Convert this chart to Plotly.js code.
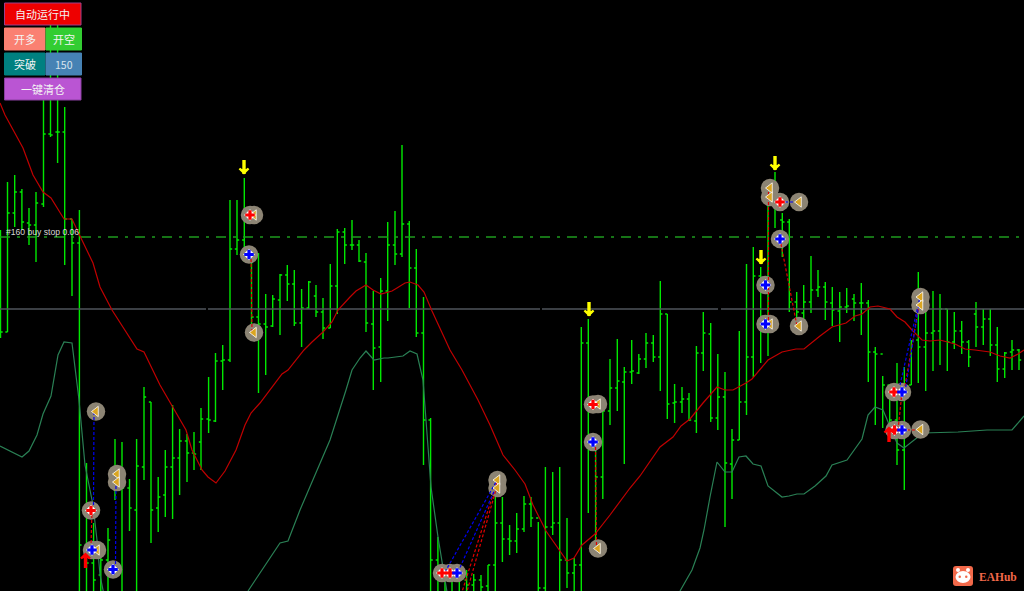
<!DOCTYPE html>
<html><head><meta charset="utf-8">
<script src="https://cdn.plot.ly/plotly-3.0.1.min.js"></script>
<style>html,body{margin:0;padding:0;background:#000;overflow:hidden}#c{width:1024px;height:591px}</style>
</head><body><div id="c"></div>
<script>
const barX=[0.5,7.5,14.7,21.9,29,36,43.5,50.5,57.6,64.7,72,79.4,86.5,93.6,100.8,108,115,122,129.5,136.6,144,151,158.2,165.3,172.6,179.6,187,194,201,208.6,215.5,222.7,230,237,244.3,251.5,258.5,265.7,272.7,280,287.3,294.3,301.6,308.7,316,323,330.3,337.3,344.7,352,359,366,373.3,380.7,387.7,395,402,409.3,416.3,423.5,430.6,437.9,445,452,459.3,466.6,473.7,481,488,495.3,502.4,509.6,516.7,524,531,538.3,545.4,552.7,559.7,567,574.2,581.3,588.3,595.6,602.8,610,617.3,624.3,631.7,638.8,646,653.3,660.3,667.3,674.6,682,689,696.4,703.3,710.7,717.8,725,732,739.3,746.5,753.3,760.7,768,775,782.3,789.3,796.7,803.7,811,818,825.3,832.3,839.7,846.7,854,861.3,868.3,875.3,882.7,889.7,897,904.3,911.3,918.3,925.7,933,940,947.3,954.3,961.7,968.7,976,983.3,990.3,997.3,1004.7,1012,1019];
const barHigh=[230,182,175,189,208,192,80,25,25,107,
219,210,463,523,547,528,439,442,479,439,
387,402,477,450,405,429,434,432,408,377,
353,345,200,200,178,255,253,294,295,274,
265,270,289,281,285,298,264,229,228,220,
240,253,291,278,222,211,145,221,249,297,
418,537,565,566,567,570,574,575,565,490,
497,525,513,496,497,522,467,472,467,518,
558,327,319,448,405,359,339,367,340,354,
333,335,281,314,384,387,393,346,312,323,
354,372,429,331,264,247,267,203,172,213,
219,292,285,256,270,282,287,292,288,294,
283,300,347,376,397,363,367,340,272,306,
291,294,309,312,321,340,302,309,309,327,
352,340,349];
const barLow=[338,332,227,230,245,262,207,137,163,265,
296,600,600,600,600,600,500,600,531,600,
480,543,532,517,519,495,482,470,470,433,
422,390,362,255,262,335,393,375,327,335,
301,326,347,309,317,339,328,314,264,250,
262,332,390,382,321,265,257,308,337,465,
600,600,600,600,600,600,600,600,600,600,
562,555,553,532,527,600,600,535,600,588,
600,600,513,543,499,425,411,464,384,374,
368,362,391,419,423,413,421,433,371,422,
430,527,499,440,415,377,363,356,228,257,
312,332,327,313,297,320,326,342,313,321,
335,382,425,428,438,465,490,385,383,391,
371,365,371,349,354,367,347,345,356,382,
378,370,370];
const barOpen=[300,332,213,192,223,225,204,134,132,132,
219,243,545,563,575,560,470,488,488,510,
467,402,508,495,467,458,441,453,442,419,
421,361,360,249,240,255,317,324,326,300,
275,284,323,308,296,312,328,286,232,245,
245,262,324,347,291,245,254,224,268,333,
420,560,570,575,578,580,585,580,586,565,
523,539,541,529,504,518,588,527,523,560,
573,565,343,405,477,411,388,382,372,373,
359,343,357,314,403,402,399,421,353,334,
418,397,464,440,402,357,276,285,330,220,
222,302,313,302,290,287,303,311,307,299,
303,303,352,354,385,420,450,385,340,347,
333,331,309,342,331,342,314,327,319,345,
369,352,350];
const barClose=[332,213,192,222,225,203,134,135,132,219,
243,545,563,580,560,540,488,488,508,466,
397,510,497,467,458,441,453,454,419,420,
361,360,249,240,255,317,324,327,299,275,
284,323,308,282,312,328,286,232,245,245,
261,323,348,291,245,254,224,268,333,420,
560,570,575,578,580,585,580,587,565,523,
539,541,529,504,518,588,527,523,560,573,
565,343,405,477,411,388,381,372,371,359,
343,357,314,404,402,399,420,353,333,418,
397,463,440,402,357,276,285,330,202,222,
302,312,302,290,287,302,310,307,306,303,
303,352,354,385,420,450,385,341,347,333,
331,309,342,331,342,357,327,319,345,369,
353,350,360];

const maX=[0,5,23,33,43,51,64,72,80,93,100,112,137,144,160,173,186,192,202,208,216,225,236,245,251,260,270,282,288,304,312,323,332,338,350,356,366,373,381,392,397,405,410,418,424,432,450,462,478,490,503,515,525,533,546,560,567,574,582,595,610,630,640,660,673,681,690,703,717,725,733,746,752,768,782,796,804,820,832,846,855,862,870,878,890,897,905,912,922,930,940,955,965,975,990,1000,1010,1018,1024];
const maY=[103,115,148,175,192,198,219,219,236,263,287,310,349,352,385,407,430,450,470,477,483,471,450,425,413,403,390,374,370,350,342,332,322,310,297,291,285,290,294,291,288,283,282,285,292,311,350,370,400,425,455,470,484,505,531,551,561,558,545,534,515,488,476,447,437,426,419,403,387,390,390,383,379,360,352,349,349,336,327,323,316,314,307,306,309,317,322,330,340,341,340,344,349,350,352,356,358,354,350];

const bandAX=[0,22,29,37,43,51,58,64,72,79,85,93,97,100,104];
const bandAY=[446,457,451,435,414,396,355,342,343,400,465,505,540,575,595];
const bandBX=[248,260,272,280,288,300,315,330,346,352,360,366,374,384,388,403,410,417,423,431,438,447];
const bandBY=[591,573,555,543,541,510,475,440,390,370,358,351,360,358,358,356,351,354,380,487,537,592];
const bandCX=[680,692,700,704,710,717,725,732,739,746,753,761,768,782,789,797,804,815,826,832,847,862,868,875,883,897,904,913,923,958,987,1012,1024];
const bandCY=[591,570,548,530,497,462,472,472,457,456,464,466,486,497,496,494,494,486,476,465,460,439,415,407,410,443,448,441,433,432,430,430,416];

const closeX=[96,117,117,97,254,254,497.5,497.5,598,598,770,770,799,770,799,920.5,920.5,920.5];
const closeY=[411.5,474,482,550,215,332.5,480,488,404,548.5,188,197,202,324,326,297,305,429.5];
const sellX=[91,250,442,450,593,780,894,894.5];
const sellY=[510.5,215,573,573,404.5,202,392,430];
const buyX=[92,113,249,457,593,780,765.5,765.5,902,902];
const buyY=[550,569.5,254.5,573,442,239,285,324,392,430];
const stopDownX=[244,589,775,761];
const stopDownY=[174,316,170,264];
const upX=[85.5,889];
const upY=[553,427];

const redLinkX=[780,797,null,461,497,null,466,497,null,595.5,596.5,null,768.5,768.5,null,905,919,null,902,898,null,902,920,null,92,91,null,251,252];
const redLinkY=[239,326,null,595,482,null,595,486,null,442,548,null,192,324,null,386,305,null,392,430,null,430,430,null,510,545,null,254,332];
const blueLinkX=[94,93.5,null,115.5,116,null,445,496,null,458,496,null,780,799,null,894,902,null,900,920,null,905,919];
const blueLinkY=[412,505,null,569,482,null,572,482,null,572,487,null,202,202,null,392,392,null,385,297,null,392,304];
const greyLineX=[0,206,null,208,540,null,542,718,null,721,1024];
const greyLineY=[309,309,null,309,309,null,309,309,null,309,309];
const stopLineX=[0,1024];
const stopLineY=[237,237];

const buttons=[
 {t:'自动运行中',x0:4.5,x1:81,y0:3,y1:25,c:'#ee0000',b:'#a0408a'},
 {t:'开多',x0:4.5,x1:45,y0:28,y1:50,c:'#fa8072',b:'#fa8072'},
 {t:'开空',x0:46,x1:81.5,y0:28,y1:50,c:'#32cd32',b:'#32cd32'},
 {t:'突破',x0:4.5,x1:45,y0:53,y1:75,c:'#008080',b:'#008080'},
 {t:'150',x0:46,x1:81.5,y0:53,y1:75,c:'#4682b4',b:'#4682b4'},
 {t:'一键清仓',x0:4.5,x1:81,y0:78,y1:100,c:'#ba55d3',b:'#8a40a0'}
];

function line(x,y,color,width,dash){return {type:'scatter',mode:'lines',x:x,y:y,line:{color:color,width:width,dash:dash||'solid'},hoverinfo:'skip',connectgaps:false};}
function pts(x,y,sym,size,color,lc,lw,angle){return {type:'scatter',mode:'markers',x:x,y:y,hoverinfo:'skip',marker:{symbol:sym,size:size,color:color,angle:angle||0,opacity:1,line:{color:lc||color,width:lw||0}}};}
const discColor='#8c8474';
const traces=[
 line(greyLineX,greyLineY,'#4f545b',1.6),
 line(stopLineX,stopLineY,'#1e9a1e',1.4,'10px,7px,3px,7px'),
 {type:'ohlc',x:barX,open:barOpen,high:barHigh,low:barLow,close:barClose,tickwidth:0.32,hoverinfo:'skip',
  increasing:{line:{color:'#00e800',width:1.4}},decreasing:{line:{color:'#00e800',width:1.4}}},
 line(maX,maY,'#c00000',1.2),
 line(bandAX,bandAY,'#2a8055',1.2),
 line(bandBX,bandBY,'#2a8055',1.2),
 line(bandCX,bandCY,'#2a8055',1.2),
 pts(closeX,closeY,'circle',18.5,discColor),
 pts(sellX,sellY,'circle',18.5,discColor),
 pts(buyX,buyY,'circle',18.5,discColor),
 line(redLinkX,redLinkY,'#e00000',1.2,'3px,2px'),
 line(blueLinkX,blueLinkY,'#0000f0',1.2,'3px,2px'),
 pts(closeX,closeY,'triangle-left',9,'#daa520','#ffffff',0.8),
 pts(sellX,sellY,'diamond',9,'#ffffff'),
 pts(buyX,buyY,'diamond',9,'#ffffff'),
 pts(sellX,sellY,'cross',8,'#ff0000'),
 pts(buyX,buyY,'cross',8,'#0000ff'),
 pts(stopDownX,stopDownY.map(v=>v-7),'line-ns-open',10,'#ffff00','#ffff00',3.4),
 pts(stopDownX,stopDownY.map(v=>v-1),'arrow-wide',6.5,'#ffff00','#ffff00',2.2,180),
 pts(upX,upY.map(v=>v+8),'line-ns-open',10,'#ff0000','#ff0000',3.4),
 pts(upX,upY.map(v=>v+1),'arrow-wide',6.5,'#ff0000','#ff0000',2.2,0)
];

const shapes=[];const ann=[];
buttons.forEach(b=>{
 shapes.push({type:'rect',xref:'x',yref:'y',x0:b.x0,x1:b.x1,y0:b.y0,y1:b.y1,fillcolor:b.c,line:{color:b.b,width:1},layer:'above'});
 ann.push({xref:'x',yref:'y',x:(b.x0+b.x1)/2,y:(b.y0+b.y1)/2,text:b.t,showarrow:false,xanchor:'center',yanchor:'middle',
  font:{family:'"Noto Sans CJK SC","Noto Sans",sans-serif',size:b.t==='150'?10.5:11,color:b.t==='150'?'#d8e4ee':'#f4f4f4'}});
});
// watermark logo
const logo='#f2694a';
shapes.push({type:'path',xref:'x',yref:'y',layer:'above',fillcolor:logo,line:{width:0},
 path:'M956,566 L970,566 Q973,566 973,569 L973,583 Q973,586 970,586 L956,586 Q953,586 953,583 L953,569 Q953,566 956,566 Z'});
shapes.push({type:'circle',xref:'x',yref:'y',layer:'above',fillcolor:'#fff',line:{width:0},x0:955.5,x1:970.5,y0:571,y1:583});
shapes.push({type:'circle',xref:'x',yref:'y',layer:'above',fillcolor:'#fff',line:{width:0},x0:956,x1:960,y0:568,y1:572});
shapes.push({type:'circle',xref:'x',yref:'y',layer:'above',fillcolor:'#fff',line:{width:0},x0:966,x1:970,y0:568,y1:572});
shapes.push({type:'circle',xref:'x',yref:'y',layer:'above',fillcolor:logo,line:{width:0},x0:958.5,x1:961,y0:575.5,y1:578});
shapes.push({type:'circle',xref:'x',yref:'y',layer:'above',fillcolor:logo,line:{width:0},x0:965,x1:967.5,y0:575.5,y1:578});
ann.push({xref:'x',yref:'y',x:977,y:576.5,text:'<b>EAHub</b>',showarrow:false,xanchor:'left',yanchor:'middle',
 font:{family:'"Liberation Serif",serif',size:11.5,color:logo}});
ann.push({xref:'x',yref:'y',x:4,y:232,text:'#160 buy stop 0.06',showarrow:false,xanchor:'left',yanchor:'middle',
 font:{family:'"Liberation Sans",Arial,sans-serif',size:8.6,color:'#d8d8d8'}});

Plotly.newPlot('c',traces,{
 width:1024,height:591,margin:{l:0,r:0,t:0,b:0,pad:0},paper_bgcolor:'#000',plot_bgcolor:'#000',showlegend:false,
 xaxis:{range:[0,1024],visible:false,fixedrange:true,rangeslider:{visible:false},type:'linear'},
 yaxis:{range:[591,0],visible:false,fixedrange:true,type:'linear'},
 shapes:shapes,annotations:ann,hovermode:false,dragmode:false
},{displayModeBar:false,staticPlot:true});
</script></body></html>
